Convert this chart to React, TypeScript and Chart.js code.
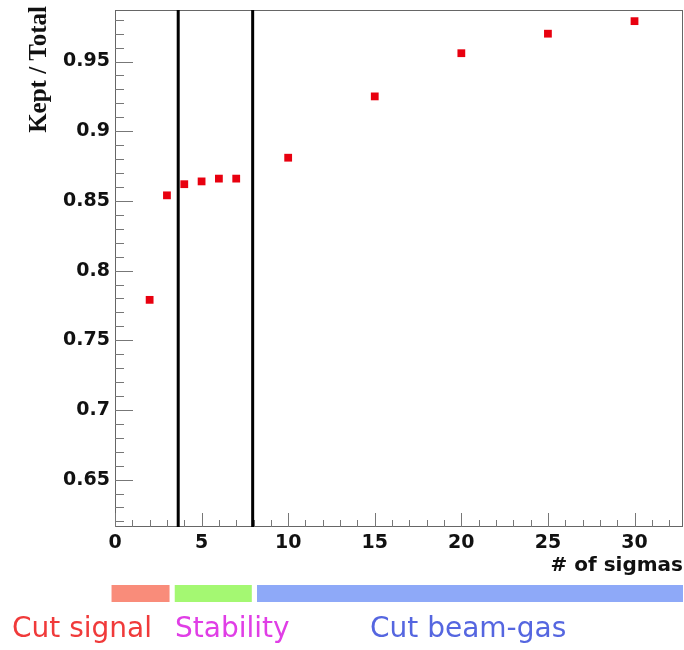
import React, { useEffect, useRef } from "react";
import { Chart, registerables } from "chart.js";
Chart.register(...registerables);

// ---- data ----
const sigmas = [2, 3, 4, 5, 6, 7, 10, 15, 20, 25, 30];
const keptFraction = [0.779, 0.854, 0.862, 0.864, 0.866, 0.866, 0.881, 0.925, 0.956, 0.970, 0.979];
const xTicks = [0, 5, 10, 15, 20, 25, 30];
const yTicks = [0.65, 0.7, 0.75, 0.8, 0.85, 0.9, 0.95];
const cutLines = [3.65, 7.95];
const regionLabels = ["Cut signal", "Stability", "Cut beam-gas"];
const regionStarts = [-0.2, 3.45, 8.2];
const regionEnds = [3.15, 7.9, 32.8];

// ---- styles / layout ----
const X_MIN = 0;
const X_MAX = 32.8;
const Y_MIN = 0.616;
const Y_MAX = 0.987;
const regionBarColors = ["#f98c7a", "#a4f872", "#8ea9f8"];
const regionTextColors = ["#f03a3a", "#e03ee6", "#5566e0"];
const regionTextX = [12, 175, 370];
const TICK_FONT = { family: "'DejaVu Sans'", size: 19, weight: "bold" as const };

const zeroPad = (s: any) => {
  s.paddingTop = 0;
  s.paddingBottom = 0;
  s.paddingLeft = 0;
  s.paddingRight = 0;
};

const rootFramePlugin = {
  id: "rootFrame",
  beforeDatasetsDraw(chart: any) {
    const { ctx, chartArea: a, scales } = chart;
    const xs = scales.x;
    const ys = scales.y;
    ctx.save();
    // frame
    ctx.strokeStyle = "#666";
    ctx.lineWidth = 1;
    ctx.strokeRect(a.left + 0.5, a.top + 0.5, a.right - a.left - 1, a.bottom - a.top - 1);
    // y ticks (inside)
    ctx.strokeStyle = "#777";
    ctx.beginPath();
    for (let k = Math.ceil(Y_MIN * 100); k <= Math.floor(Y_MAX * 100); k++) {
      const py = Math.round(ys.getPixelForValue(k / 100)) + 0.5;
      const len = k % 5 === 0 ? 18 : 9;
      ctx.moveTo(a.left, py);
      ctx.lineTo(a.left + len, py);
    }
    // x ticks (inside)
    for (let k = Math.ceil(X_MIN); k <= Math.floor(X_MAX); k++) {
      const px = Math.round(xs.getPixelForValue(k)) + 0.5;
      const len = k % 5 === 0 ? 14 : 7;
      ctx.moveTo(px, a.bottom);
      ctx.lineTo(px, a.bottom - len);
    }
    ctx.stroke();
    // cut lines
    ctx.strokeStyle = "#000";
    ctx.lineWidth = 3;
    ctx.beginPath();
    cutLines.forEach((v) => {
      const px = xs.getPixelForValue(v);
      ctx.moveTo(px, a.top);
      ctx.lineTo(px, a.bottom);
    });
    ctx.stroke();
    ctx.restore();
  },
  afterDraw(chart: any) {
    const { ctx, chartArea: a, scales } = chart;
    const xs = scales.x;
    ctx.save();
    // y title
    ctx.save();
    ctx.translate(46, a.top - 4);
    ctx.rotate(-Math.PI / 2);
    ctx.font = "bold 25px 'Liberation Serif'";
    ctx.fillStyle = "#111";
    ctx.textAlign = "right";
    ctx.textBaseline = "alphabetic";
    ctx.fillText("Kept / Total", 0, 0);
    ctx.restore();
    // x title
    ctx.font = "bold 20px 'DejaVu Sans'";
    ctx.fillStyle = "#111";
    ctx.textAlign = "right";
    ctx.textBaseline = "alphabetic";
    ctx.fillText("# of sigmas", a.right, a.bottom + 44);
    // region bars
    regionLabels.forEach((lab, i) => {
      const x0 = xs.getPixelForValue(regionStarts[i]);
      const x1 = xs.getPixelForValue(regionEnds[i]);
      ctx.fillStyle = regionBarColors[i];
      ctx.fillRect(x0, a.bottom + 58, x1 - x0, 17);
      ctx.font = "28px 'DejaVu Sans'";
      ctx.fillStyle = regionTextColors[i];
      ctx.textAlign = "left";
      ctx.fillText(lab, regionTextX[i], a.bottom + 110);
    });
    ctx.restore();
  },
};

export default function App() {
  const ref = useRef<HTMLCanvasElement>(null);
  useEffect(() => {
    if (!ref.current) return;
    const chart = new Chart(ref.current, {
      type: "scatter",
      data: {
        datasets: [
          {
            label: "Kept / Total",
            data: sigmas.map((s, i) => ({ x: s, y: keptFraction[i] })),
            pointStyle: "rect",
            pointRadius: 5.5,
            pointHoverRadius: 5.5,
            pointBackgroundColor: "#e8000f",
            pointBorderWidth: 0,
            showLine: false,
          },
        ],
      },
      options: {
        animation: false,
        responsive: false,
        maintainAspectRatio: false,
        layout: { autoPadding: false, padding: { top: 10, right: 1, left: 0, bottom: 0 } },
        plugins: { legend: { display: false }, tooltip: { enabled: false } },
        scales: {
          x: {
            type: "linear",
            min: X_MIN,
            max: X_MAX,
            grid: { display: false, drawTicks: false },
            border: { display: false },
            afterBuildTicks: (s: any) => {
              s.ticks = xTicks.map((v) => ({ value: v }));
            },
            afterFit: (s: any) => {
              s.height = 123;
              zeroPad(s);
            },
            ticks: {
              autoSkip: false,
              maxRotation: 0,
              padding: 5,
              color: "#111",
              font: TICK_FONT,
              callback: (v: any) => String(v),
            },
          },
          y: {
            type: "linear",
            min: Y_MIN,
            max: Y_MAX,
            grid: { display: false, drawTicks: false },
            border: { display: false },
            afterBuildTicks: (s: any) => {
              s.ticks = yTicks.map((v) => ({ value: v }));
            },
            afterFit: (s: any) => {
              s.width = 115;
              zeroPad(s);
            },
            ticks: {
              autoSkip: false,
              padding: 5,
              color: "#111",
              font: TICK_FONT,
              callback: (v: any) => String(v),
            },
          },
        },
      },
      plugins: [rootFramePlugin],
    });
    return () => chart.destroy();
  }, []);
  return (
    <div style={{ position: "absolute", left: 0, top: 0, width: 684, height: 650, background: "#fff" }}>
      <canvas ref={ref} width={684} height={650} style={{ display: "block", width: 684, height: 650 }} />
    </div>
  );
}
